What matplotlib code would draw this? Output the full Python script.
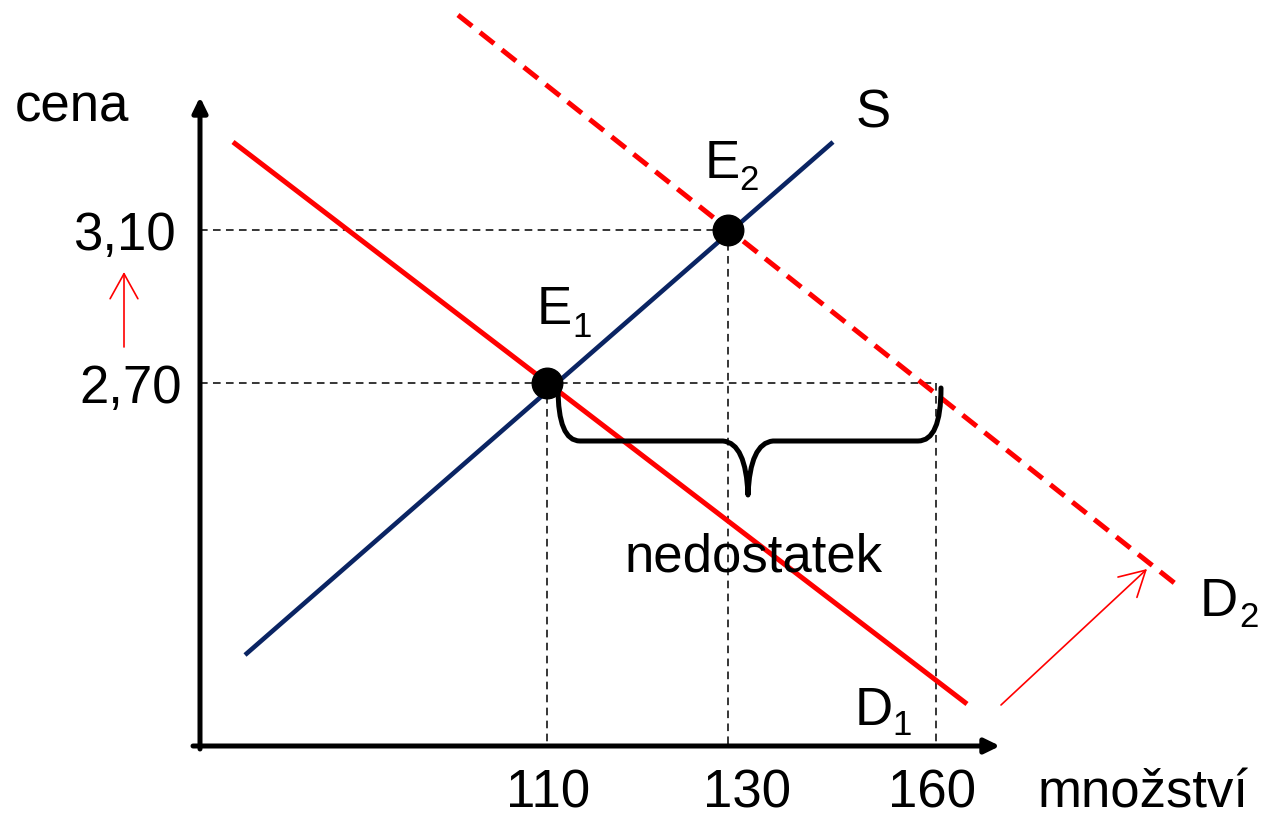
import matplotlib.pyplot as plt
from matplotlib.path import Path
from matplotlib.patches import PathPatch

plt.rcParams['font.family'] = ['Liberation Sans', 'DejaVu Sans']

# ---- schematic diagram coordinates (x to the right, y downward) ----
W, H = 1266, 818

axis_origin = (200, 746)
x_axis_end = 1000
y_axis_end = 97

q_labels = ['110', '130', '160']
q_pos = [547, 727, 936]
q_label_x = [548, 747, 932]

p_labels = ['2,70', '3,10']
p_pos = [383, 230]
p_label_x = [182, 176]

supply_x = [245, 833]
supply_y = [655, 142]
d1_x = [233, 967]
d1_y = [142, 704]
d2_x = [458, 1182]
d2_y = [15, 589]

eq_x = [547, 728]
eq_y = [383, 230]

# nedostatek = 160 - 110 pri cene 2,70
brace_left, brace_right = 558, 941
brace_top, brace_mid, brace_tip = 388, 441, 495
brace_center = 748

NAVY = '#0a2463'
RED = '#ff0000'
GUIDE = dict(color='black', lw=1.1, ls=(0, (5, 3.5)), zorder=1)

fig = plt.figure(figsize=(W / 100, H / 100), dpi=100)
ax = fig.add_axes([0, 0, 1, 1])
ax.set_xlim(0, W)
ax.set_ylim(H, 0)
ax.axis('off')

# pomocne cary
for q, p in zip(eq_x, eq_y):
    ax.plot([axis_origin[0], q], [p, p], **GUIDE)
    ax.plot([q, q], [p, axis_origin[1]], **GUIDE)
ax.plot([eq_x[0], q_pos[2]], [eq_y[0], eq_y[0]], **GUIDE)
ax.plot([q_pos[2], q_pos[2]], [eq_y[0], axis_origin[1]], **GUIDE)

# krivky
ax.plot(supply_x, supply_y, color=NAVY, lw=3.3, solid_capstyle='butt', zorder=3)
ax.plot(d1_x, d1_y, color=RED, lw=3.6, solid_capstyle='butt', zorder=3)
ax.plot(d2_x, d2_y, color=RED, lw=3.6, ls=(0, (3.6, 2.0)), dash_capstyle='butt', zorder=3)

# rovnovahy
ax.plot(eq_x, eq_y, 'o', color='black', ms=22, zorder=5)

# osy
AXIS_ARROW = dict(arrowstyle='-|>,head_length=0.45,head_width=0.22', lw=3.6,
                  color='black', shrinkA=0, shrinkB=0, mutation_scale=20)
ax.annotate('', xy=(axis_origin[0], y_axis_end), xytext=(axis_origin[0], axis_origin[1] + 3),
            arrowprops=AXIS_ARROW, zorder=4)
ax.annotate('', xy=(x_axis_end, axis_origin[1]), xytext=(193, axis_origin[1]),
            arrowprops=AXIS_ARROW, zorder=4)

# posuny
SHIFT_ARROW = dict(arrowstyle='->,head_length=0.9,head_width=0.5', lw=1.2,
                   color=RED, shrinkA=0, shrinkB=0, mutation_scale=20)
ax.annotate('', xy=(124, 272), xytext=(124, 347), arrowprops=SHIFT_ARROW)
ax.annotate('', xy=(1147, 569), xytext=(1001, 705), arrowprops=SHIFT_ARROW)

# slozena zavorka
verts = [
    (brace_left, brace_top),
    (brace_left, brace_mid), (brace_left + 22, brace_mid),
    (brace_center - 25, brace_mid),
    (brace_center - 2, brace_mid + 2), (brace_center, brace_tip),
    (brace_center + 2, brace_mid + 2), (brace_center + 25, brace_mid),
    (brace_right - 23, brace_mid),
    (brace_right, brace_mid), (brace_right, brace_top),
]
codes = [Path.MOVETO,
         Path.CURVE3, Path.CURVE3,
         Path.LINETO,
         Path.CURVE3, Path.CURVE3,
         Path.CURVE3, Path.CURVE3,
         Path.LINETO,
         Path.CURVE3, Path.CURVE3]
ax.add_patch(PathPatch(Path(verts, codes), fill=False, lw=3.6, edgecolor='black',
                       capstyle='round', joinstyle='round', zorder=4))

# popisky os
FS = 38
for lab, x in zip(q_labels, q_label_x):
    ax.text(x, 807, lab, fontsize=FS, ha='center', va='baseline')
for lab, x, y in zip(p_labels, p_label_x, p_pos):
    ax.text(x, y + 20, lab, fontsize=FS, ha='right', va='baseline')

ax.text(15, 121, 'cena', fontsize=FS, ha='left', va='baseline')
ax.text(1038, 807, 'množství', fontsize=FS, ha='left', va='baseline')
ax.text(625, 572, 'nedostatek', fontsize=FS, ha='left', va='baseline')
ax.text(856, 128, 'S', fontsize=FS, ha='left', va='baseline')

SUB = 25
for main, sub, x, y, xs, ys in [('E', '2', 705, 178, 739, 190),
                                 ('E', '1', 537, 324, 572, 337),
                                 ('D', '1', 855, 725, 892, 735),
                                 ('D', '2', 1200, 616, 1239, 627)]:
    ax.text(x, y, main, fontsize=FS, ha='left', va='baseline')
    ax.text(xs, ys, sub, fontsize=SUB, ha='left', va='baseline')

fig.savefig('out.png', dpi=100)
